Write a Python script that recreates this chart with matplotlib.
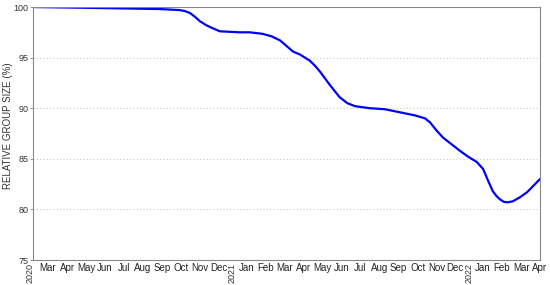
import numpy as np
import matplotlib
matplotlib.use('Agg')
import matplotlib.pyplot as plt
import matplotlib.transforms as mtransforms

# values
dates = ['2020-02-22', '2020-06-04', '2020-09-05', '2020-10-05', '2020-10-14',
         '2020-10-22', '2020-10-30', '2020-11-06', '2020-11-16', '2020-11-26',
         '2020-12-07', '2021-01-07', '2021-01-22', '2021-02-11', '2021-02-25',
         '2021-03-10', '2021-03-21', '2021-03-30', '2021-04-10', '2021-04-25',
         '2021-05-03', '2021-05-11', '2021-05-26', '2021-06-10', '2021-06-22',
         '2021-07-04', '2021-07-27', '2021-08-19', '2021-09-11', '2021-10-04',
         '2021-10-20', '2021-10-28', '2021-11-07', '2021-11-17', '2021-12-01',
         '2021-12-13', '2021-12-26', '2022-01-08', '2022-01-18', '2022-01-26',
         '2022-02-02', '2022-02-08', '2022-02-13', '2022-02-19', '2022-02-25',
         '2022-03-05', '2022-03-16', '2022-03-27', '2022-04-16']
group_size = [100.0, 99.9, 99.8, 99.7, 99.6,
              99.4, 99.0, 98.6, 98.2, 97.9,
              97.6, 97.5, 97.5, 97.35, 97.1,
              96.7, 96.1, 95.6, 95.3, 94.7,
              94.2, 93.6, 92.3, 91.1, 90.5,
              90.2, 90.0, 89.9, 89.6, 89.3,
              89.0, 88.6, 87.8, 87.1, 86.4,
              85.8, 85.2, 84.7, 84.0, 82.8,
              81.8, 81.3, 81.0, 80.75, 80.7,
              80.8, 81.2, 81.7, 83.0]

month_labels = ['Mar', 'Apr', 'May', 'Jun', 'Jul', 'Aug', 'Sep', 'Oct', 'Nov', 'Dec',
                'Jan', 'Feb', 'Mar', 'Apr', 'May', 'Jun', 'Jul', 'Aug', 'Sep', 'Oct', 'Nov', 'Dec',
                'Jan', 'Feb', 'Mar', 'Apr']
year_labels = ['2020', '2021', '2022']

y_ticks = [75, 80, 85, 90, 95, 100]

plt.rcParams['font.family'] = ['Liberation Sans', 'DejaVu Sans']

fig = plt.figure(figsize=(5.5, 2.85), dpi=100)
ax = fig.add_axes([0.06, 0.0877, 0.9218, 0.8877])

x = np.array(dates, dtype='datetime64[D]')
ax.plot(x, group_size, color='#0000ff', lw=1.6)

xmin, xmax = np.datetime64('2020-02-22'), np.datetime64('2022-04-16')
ax.set_xlim(xmin, xmax)
ax.set_ylim(75, 100)

# month labels: even spacing with a wider gap at each new year (as in the source)
frac = []
pos = 0.0
for i, lab in enumerate(month_labels):
    if i > 0:
        pos += 27.5 if lab == 'Jan' else 19.0
    frac.append((15 + pos) / 507.0)
span = (xmax - xmin).astype(int)
month_ticks = [xmin + np.timedelta64(int(round(f * span)), 'D') for f in frac]
ax.set_xticks(month_ticks)
ax.set_xticklabels(month_labels, fontsize=7, color='#222222')
ax.tick_params(axis='x', length=0, pad=2)

ax.set_yticks(y_ticks)
ax.set_yticklabels([str(v) for v in y_ticks], fontsize=6.5, color='#333333')
ax.tick_params(axis='y', length=2.5, width=0.6, color='#888888', pad=1)

# year labels, rotated, between Dec and Jan
jan_idx = [i for i, lab in enumerate(month_labels) if lab == 'Jan']
year_frac = [(15 - 18.0) / 507.0] + [frac[i] - 14.0 / 507.0 for i in jan_idx]
for lab, f in zip(year_labels, year_frac):
    ax.text(f, -0.01, lab, rotation=90, ha='center', va='top',
            fontsize=6.5, color='#333333', transform=ax.transAxes, clip_on=False)

for v in [80, 85, 90, 95]:
    ax.axhline(v, color='#cccccc', lw=0.8, ls=(0, (1, 2)), zorder=0)

for s in ax.spines.values():
    s.set_color('#888888')
    s.set_linewidth(0.8)

ax.set_ylabel('RELATIVE GROUP SIZE (%)', fontsize=7, color='#333333')
ax.yaxis.set_label_coords(-0.04, 0.53)

fig.savefig('out.png', dpi=100)
